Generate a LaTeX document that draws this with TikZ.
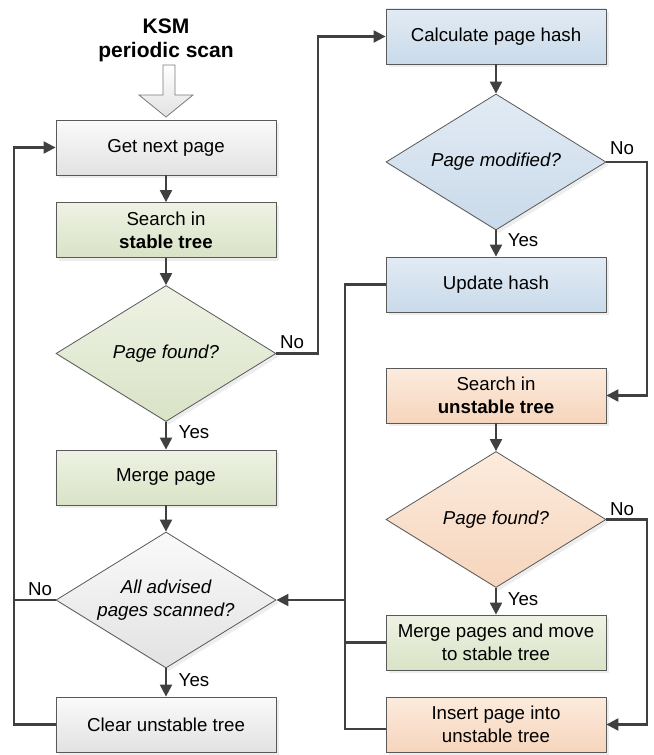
\documentclass[tikz,border=0pt]{standalone}
\usepackage{fontspec}
\setmainfont{Liberation Sans}
\usetikzlibrary{shapes.geometric,arrows.meta,shadows}
\definecolor{ln}{HTML}{404040}
\definecolor{bd}{HTML}{595959}
\definecolor{gT}{HTML}{FAFAFA}
\definecolor{gB}{HTML}{E2E2E2}
\definecolor{grT}{HTML}{EEF2E4}
\definecolor{grB}{HTML}{D9E3C6}
\definecolor{blT}{HTML}{E2EBF4}
\definecolor{blB}{HTML}{C9DAEA}
\definecolor{orT}{HTML}{FCEBDD}
\definecolor{orB}{HTML}{F6D5BC}
\begin{document}
\begin{tikzpicture}[x=1bp,y=-1bp,
  txt/.style={font=\fontsize{18.7bp}{23bp}\selectfont},
  shd/.style={drop shadow={shadow xshift=3bp,shadow yshift=-3bp,fill=black!14}},
  box/.style={rectangle,draw=bd,line width=0.8bp,minimum width=220bp,minimum height=55bp,inner sep=2bp,align=center,txt,shd},
  dia/.style={diamond,aspect=1.6,draw=bd,line width=0.8bp,minimum width=220bp,minimum height=136bp,inner sep=0pt,align=center,txt,font=\fontsize{18.7bp}{23bp}\selectfont\itshape,shd},
  gry/.style={top color=gT,bottom color=gB},
  grn/.style={top color=grT,bottom color=grB},
  blu/.style={top color=blT,bottom color=blB},
  org/.style={top color=orT,bottom color=orB},
  conn/.style={draw=ln,line width=2.2bp},
  arr/.style={conn,-{Triangle[length=12bp,width=12bp]}},
  lbl/.style={txt,inner sep=0pt}]
\useasboundingbox (0,0) rectangle (654,755);
% title and block arrow
\node[font=\fontsize{21bp}{24bp}\selectfont\bfseries,align=center] (ttl) at (166,40) {KSM\\periodic scan};
\draw[draw=bd!80,line width=0.8bp,top color=white,bottom color=gB]
  (163,65) -- (175,65) -- (175,95) -- (193,95) -- (166,117) -- (139,95) -- (163,95) -- cycle;
% left column
\node[box,gry] (get) at (166,147.5) {Get next page};
\node[box,grn] (ss) at (166,230) {Search in\\\textbf{stable tree}};
\node[dia,grn] (pf) at (166,353.5) {Page found?};
\node[box,grn] (mp) at (166,477.5) {Merge page};
\node[dia,gry] (aa) at (166,600) {All advised\\pages scanned?};
\node[box,gry] (cl) at (166,724.5) {Clear unstable tree};
% right column
\node[box,blu] (ch) at (496,36.5) {Calculate page hash};
\node[dia,blu] (pm) at (496,162) {Page modified?};
\node[box,blu] (uh) at (496,284.5) {Update hash};
\node[box,org] (su) at (496,395.5) {Search in\\\textbf{unstable tree}};
\node[dia,org] (pf2) at (496,519.5) {Page found?};
\node[box,grn] (mv) at (496,642.5) {Merge pages and move\\to stable tree};
\node[box,org] (ins) at (496,724.5) {Insert page into\\unstable tree};
% junctions
\coordinate (j) at (345,600);
\coordinate (l) at (14,600);
% connectors left
\draw[arr] (get) -- (ss);
\draw[arr] (ss) -- (pf);
\draw[arr] (pf) -- (mp);
\draw[arr] (mp) -- (aa);
\draw[arr] (aa) -- (cl);
\draw[arr] (pf.east) -- (318,353.5) |- (ch.west);
\draw[arr] (aa.west) -- (l) |- (get.west);
\draw[conn] (cl.west) -| (l);
% connectors right
\draw[arr] (ch) -- (pm);
\draw[arr] (pm) -- (uh);
\draw[arr] (su) -- (pf2);
\draw[arr] (pf2) -- (mv);
\draw[arr] (pm.east) -- (647,162) |- (su.east);
\draw[arr] (pf2.east) -- (647,519.5) |- (ins.east);
\draw[conn] (uh.west) -| (j);
\draw[conn] (mv.west) -| (j);
\draw[conn] ([yshift=-4.5bp]ins.west) -| (j);
\draw[arr] (j) -- (aa.east);
% labels
\node[lbl] (n1) at (292,342) {No};
\node[lbl] (y1) at (194,432) {Yes};
\node[lbl] (n2) at (622,148) {No};
\node[lbl] (y2) at (523,240) {Yes};
\node[lbl] (n3) at (622,509) {No};
\node[lbl] (y3) at (523,599) {Yes};
\node[lbl] (n4) at (40,589) {No};
\node[lbl] (y4) at (194,680) {Yes};
\end{tikzpicture}
\end{document}
